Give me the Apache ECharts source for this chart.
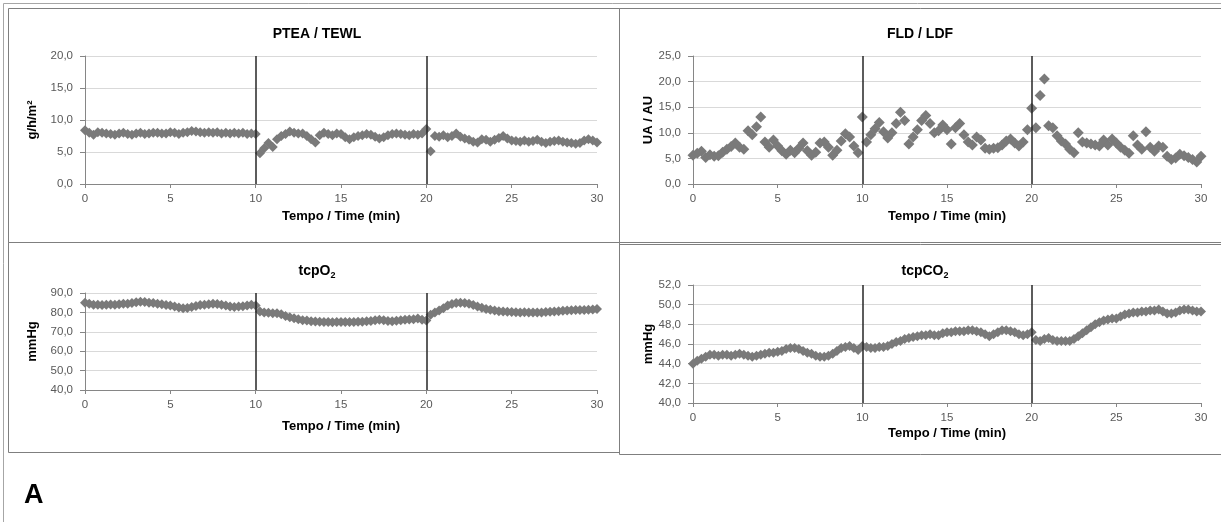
<!DOCTYPE html>
<html>
<head>
<meta charset="utf-8">
<script src="https://cdn.jsdelivr.net/npm/echarts@6/dist/echarts.min.js"></script>
<style>
html,body{margin:0;padding:0;background:#fff;}
#chart{width:1221px;height:522px;}
</style>
</head>
<body>
<div id="chart"></div>
<script>
// Time (min) of each sample
const time = [
 0,0.25,0.5,0.75,1,1.25,1.5,1.75,2,2.25,
 2.5,2.75,3,3.25,3.5,3.75,4,4.25,4.5,4.75,
 5,5.25,5.5,5.75,6,6.25,6.5,6.75,7,7.25,
 7.5,7.75,8,8.25,8.5,8.75,9,9.25,9.5,9.75,
 10,10.25,10.5,10.75,11,11.25,11.5,11.75,12,12.25,
 12.5,12.75,13,13.25,13.5,13.75,14,14.25,14.5,14.75,
 15,15.25,15.5,15.75,16,16.25,16.5,16.75,17,17.25,
 17.5,17.75,18,18.25,18.5,18.75,19,19.25,19.5,19.75,
 20,20.25,20.5,20.75,21,21.25,21.5,21.75,22,22.25,
 22.5,22.75,23,23.25,23.5,23.75,24,24.25,24.5,24.75,
 25,25.25,25.5,25.75,26,26.25,26.5,26.75,27,27.25,
 27.5,27.75,28,28.25,28.5,28.75,29,29.25,29.5,29.75,
 30
];
// PTEA / TEWL (g/h/m2)
const tewl = [
 8.4,8.0,7.7,8.1,8.0,7.9,7.8,7.7,7.9,8.0,
 7.8,7.7,7.9,8.0,7.8,7.9,8.0,8.0,7.9,7.9,
 8.1,8.0,7.8,8.0,8.1,8.3,8.2,8.1,8.0,8.1,
 8.0,8.1,7.9,8.0,7.9,8.0,7.9,8.0,7.8,7.9,
 7.8,4.8,5.6,6.4,5.8,7.0,7.5,7.8,8.2,8.0,
 7.9,7.9,7.5,7.0,6.5,7.6,8.0,7.8,7.6,7.9,
 7.8,7.3,7.0,7.3,7.5,7.6,7.8,7.7,7.4,7.1,
 7.3,7.6,7.8,7.9,7.8,7.7,7.6,7.8,7.7,7.9,
 8.6,5.1,7.5,7.4,7.6,7.3,7.5,7.9,7.4,7.1,
 6.9,6.6,6.5,7.0,6.9,6.6,6.9,7.2,7.5,7.1,
 6.8,6.7,6.6,6.8,6.6,6.7,6.9,6.6,6.4,6.6,
 6.7,6.8,6.6,6.5,6.4,6.3,6.4,6.8,7.0,6.8,
 6.5
];
// FLD / LDF (UA / AU)
const ldf = [
 5.6,6.0,6.4,5.2,5.7,5.4,5.5,6.2,6.8,7.3,
 8.0,7.2,6.8,10.4,9.6,11.2,13.1,8.2,7.2,8.6,
 7.4,6.5,5.8,6.6,6.1,7.0,8.0,6.5,5.6,6.2,
 8.0,8.2,7.2,5.6,6.6,8.4,9.8,9.2,7.4,6.1,
 13.1,8.2,9.6,10.8,12.0,10.2,9.0,10.0,11.8,14.0,
 12.4,7.8,9.2,10.6,12.4,13.4,11.8,10.0,10.4,11.5,
 10.6,7.8,11.0,11.8,9.6,8.2,7.6,9.2,8.6,7.0,
 6.8,7.0,7.1,7.6,8.4,8.8,8.0,7.4,8.2,10.6,
 14.8,11.0,17.3,20.5,11.4,11.0,9.4,8.4,7.8,6.8,
 6.1,10.0,8.2,8.0,7.8,7.6,7.4,8.6,7.6,8.8,
 8.0,7.2,6.6,6.0,9.4,7.6,6.8,10.2,7.2,6.4,
 7.4,7.2,5.4,4.8,5.1,5.8,5.5,5.2,4.8,4.3,
 5.4
];
// tcpO2 (mmHg)
const tcpO2 = [
 85.0,84.4,84.0,84.0,83.8,84.0,84.1,84.0,84.2,84.4,
 84.5,84.8,85.2,85.5,85.3,85.0,84.8,84.5,84.2,83.8,
 83.5,83.0,82.5,82.2,82.3,82.8,83.3,83.8,84.0,84.2,
 84.4,84.3,84.0,83.5,83.0,82.8,83.0,83.2,83.6,84.0,
 83.5,80.5,80.0,79.8,79.6,79.5,79.0,78.2,77.5,77.0,
 76.5,76.0,75.8,75.5,75.3,75.2,75.0,75.0,74.9,75.0,
 75.0,75.0,75.1,75.0,75.2,75.2,75.4,75.6,75.9,76.2,
 76.0,75.6,75.5,75.7,76.0,76.2,76.3,76.5,76.8,76.2,
 75.8,78.8,80.0,81.0,82.2,83.5,84.3,84.8,85.0,84.9,
 84.5,83.8,83.0,82.4,81.8,81.4,81.0,80.6,80.4,80.3,
 80.2,80.1,80.0,80.1,80.0,80.0,79.9,80.0,80.2,80.3,
 80.4,80.6,80.9,81.0,81.1,81.2,81.2,81.3,81.4,81.5,
 81.8
];
// tcpCO2 (mmHg)
const tcpCO2 = [
 44.0,44.3,44.5,44.7,44.9,44.9,44.8,44.9,44.9,44.8,
 44.9,45.0,44.9,44.8,44.7,44.8,44.9,45.0,45.1,45.1,
 45.2,45.3,45.5,45.6,45.6,45.5,45.3,45.1,45.0,44.8,
 44.7,44.7,44.8,45.0,45.3,45.6,45.7,45.8,45.6,45.4,
 45.8,45.7,45.6,45.6,45.7,45.7,45.8,46.0,46.2,46.3,
 46.5,46.6,46.7,46.8,46.9,46.9,47.0,46.9,46.9,47.1,
 47.2,47.2,47.3,47.3,47.3,47.4,47.4,47.3,47.2,47.0,
 46.8,47.0,47.2,47.4,47.4,47.3,47.2,47.0,46.9,47.0,
 47.2,46.4,46.3,46.5,46.6,46.4,46.3,46.3,46.3,46.3,
 46.5,46.8,47.1,47.4,47.7,48.0,48.2,48.4,48.5,48.6,
 48.6,48.8,49.0,49.1,49.2,49.2,49.3,49.3,49.4,49.4,
 49.5,49.3,49.1,49.1,49.2,49.4,49.5,49.5,49.4,49.3,
 49.3
];
// Phase boundaries (min)
const phaseLines = [10, 20];

const panelTitles = ['PTEA / TEWL', 'FLD / LDF', '{m|tcpO}{s|2}', '{m|tcpCO}{s|2}'];
const yNames = ['g/h/m²', 'UA / AU', 'mmHg', 'mmHg'];
const xName = 'Tempo / Time (min)';
const yRanges = [[0, 20, 5], [0, 25, 5], [40, 90, 10], [40, 52, 2]];
const seriesValues = [tewl, ldf, tcpO2, tcpCO2];

const narrow = "'Liberation Sans Narrow','Liberation Sans',Arial,sans-serif";
const sans = "'Liberation Sans',Arial,sans-serif";

const grids = [
  {left: 85, top: 56, width: 512, height: 128},
  {left: 693, top: 56, width: 508, height: 128},
  {left: 85, top: 293, width: 512, height: 97},
  {left: 693, top: 285, width: 508, height: 118}
];
const titlePos = [[312, 22], [915, 22], [312, 258], [920, 258]];
const xNameGap = [26, 26, 30, 24];
const yNameGap = [46, 36, 46, 38];
const markerSize = [10, 11, 10, 10];

const fmt = v => v.toFixed(1).replace('.', ',');

const option = {
  animation: false,
  backgroundColor: '#ffffff',
  title: panelTitles.map((t, i) => ({
    text: t,
    left: titlePos[i][0],
    top: titlePos[i][1],
    textAlign: 'center',
    textStyle: {
      fontFamily: sans, fontSize: 14, fontWeight: 'bold', color: '#000',
      rich: {
        m: {fontFamily: sans, fontSize: 14, fontWeight: 'bold', color: '#000'},
        s: {fontFamily: sans, fontSize: 9, fontWeight: 'bold', color: '#000', verticalAlign: 'bottom', padding: [8, 0, 0, 0]}
      }
    }
  })),
  grid: grids,
  xAxis: grids.map((g, i) => ({
    type: 'value', gridIndex: i, min: 0, max: 30, interval: 5,
    name: xName, nameLocation: 'middle', nameGap: xNameGap[i],
    nameTextStyle: {fontFamily: narrow, fontWeight: 'bold', fontSize: 13, color: '#000'},
    axisLine: {show: true, lineStyle: {color: '#868686', width: 1}},
    axisTick: {show: true, length: 4, lineStyle: {color: '#868686'}},
    axisLabel: {color: '#595959', fontFamily: sans, fontSize: 11.5, margin: 9},
    splitLine: {show: false}
  })),
  yAxis: grids.map((g, i) => ({
    type: 'value', gridIndex: i, min: yRanges[i][0], max: yRanges[i][1], interval: yRanges[i][2],
    name: yNames[i], nameLocation: 'middle', nameGap: yNameGap[i], nameRotate: 90,
    nameTextStyle: {fontFamily: narrow, fontWeight: 'bold', fontSize: 13, color: '#000'},
    axisLine: {show: true, lineStyle: {color: '#868686', width: 1}},
    axisTick: {show: true, length: 5, lineStyle: {color: '#868686'}},
    axisLabel: {color: '#595959', fontFamily: sans, fontSize: 11.5, margin: 12, formatter: fmt},
    splitLine: {show: true, lineStyle: {color: '#d9d9d9', width: 1}}
  })),
  series: seriesValues.map((vals, i) => ({
    type: 'scatter',
    xAxisIndex: i, yAxisIndex: i,
    symbol: 'diamond',
    symbolSize: markerSize[i],
    itemStyle: {color: '#7a7a7a', opacity: 1},
    data: time.map((t, k) => [t, vals[k]]),
    markLine: {
      silent: true, symbol: ['none', 'none'], label: {show: false},
      lineStyle: {color: '#262626', width: 1.5, type: 'solid'},
      data: phaseLines.map(t => ({xAxis: t}))
    }
  })),
  graphic: [
    {type: 'rect', shape: {x: 3.5, y: 3.5, width: 1240, height: 540}, style: {fill: 'none', stroke: '#a6a6a6', lineWidth: 1}, silent: true},
    {type: 'rect', shape: {x: 8.5, y: 8.5, width: 611, height: 234}, style: {fill: 'none', stroke: '#7f7f7f', lineWidth: 1}, silent: true},
    {type: 'rect', shape: {x: 619.5, y: 8.5, width: 610, height: 234}, style: {fill: 'none', stroke: '#7f7f7f', lineWidth: 1}, silent: true},
    {type: 'rect', shape: {x: 8.5, y: 242.5, width: 611, height: 210}, style: {fill: 'none', stroke: '#7f7f7f', lineWidth: 1}, silent: true},
    {type: 'rect', shape: {x: 619.5, y: 244.5, width: 610, height: 210}, style: {fill: 'none', stroke: '#7f7f7f', lineWidth: 1}, silent: true},
    {type: 'text', left: 24, top: 482, style: {text: 'A', font: "bold 27px 'Liberation Sans Narrow','Liberation Sans',Arial,sans-serif", fill: '#000'}}
  ]
};

const chart = echarts.init(document.getElementById('chart'), null, {renderer: 'canvas'});
chart.setOption(option);
</script>
</body>
</html>
